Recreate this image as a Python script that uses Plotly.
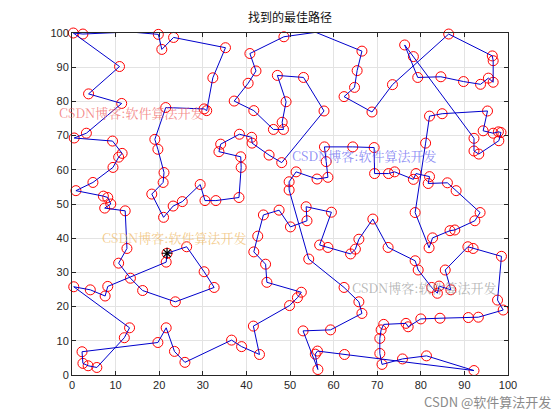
import plotly.graph_objects as go

# Tour order (city coordinates), starting at the starred city
route_x = [21.8, 26.3, 30.3, 32.6, 23.7, 16.2, 13.4, 10.7, 12.6, 12.2,
           7.5, 8.9, 8.2, 7.2, 0.9, 4.8, 9.4, 10.7, 11.5, 9.3,
           0.5, 3.3, 11.4, 3.8, 10.9, 0.3, 2.5, 13.4, 19.8, 20.6,
           23.3, 35.2, 32.3, 30.9, 30.3, 21.5, 19.0, 19.7, 21.1, 20.9,
           18.3, 21.0, 23.2, 25.3, 29.4, 30.5, 33.0, 38.3, 38.8, 38.7,
           33.7, 34.1, 38.4, 41.2, 41.3, 45.2, 48.1, 57.8, 53.1, 47.1,
           49.1, 48.2, 48.5, 46.2, 41.7, 37.2, 40.4, 42.2, 40.8, 48.6,
           55.9, 66.5, 65.4, 64.8, 62.4, 68.8, 73.5, 86.4, 96.4, 96.6,
           96.6, 95.5, 93.7, 89.8, 84.6, 79.3, 76.3, 78.3, 92.2, 92.2,
           93.3, 97.9, 98.4, 97.8, 96.6, 94.3, 95.3, 84.9, 82.0, 81.1,
           78.7, 81.9, 82.7, 86.7, 87.8, 92.4, 93.6, 88.1, 86.1, 81.7,
           82.0, 78.9, 78.3, 74.0, 72.6, 69.4, 69.3, 64.4, 57.9, 58.3,
           58.7, 56.2, 51.4, 49.8, 49.8, 54.3, 62.4, 65.8, 66.5, 59.3,
           53.0, 56.4, 55.8, 56.3, 62.5, 92.2, 81.3, 75.8, 71.1, 70.6,
           70.6, 70.9, 71.5, 76.6, 77.1, 80.0, 84.4, 90.9, 93.2, 98.9,
           97.6, 98.5, 92.0, 90.8, 85.6, 86.9, 84.2, 83.8, 82.5, 79.4,
           78.7, 72.5, 69.0, 65.8, 65.0, 63.9, 58.7, 56.8, 59.5, 53.7,
           53.9, 50.1, 47.5, 43.9, 42.6, 41.7, 44.4, 44.7, 52.6, 51.7,
           49.9, 41.6, 43.0, 38.9, 36.6, 25.9, 23.5, 21.6, 19.7, 2.3,
           2.5, 3.7, 5.7, 12.0, 13.2, 0.4, 4.2, 7.6, 8.2, 21.6]
route_y = [35.6, 37.5, 30.2, 25.6, 21.4, 24.7, 28.3, 32.7, 37.0, 48.0,
           48.8, 50.0, 51.9, 52.3, 53.9, 56.3, 60.7, 63.7, 64.8, 68.4,
           69.3, 70.7, 79.4, 82.2, 90.2, 100.0, 99.7, 100.3, 99.6, 95.2,
           98.7, 95.7, 86.9, 77.3, 77.8, 78.2, 68.9, 66.0, 59.2, 56.3,
           52.9, 46.1, 49.4, 50.7, 55.7, 51.0, 51.0, 51.9, 60.7, 63.8,
           65.3, 67.5, 70.4, 69.5, 67.8, 64.3, 62.1, 77.2, 87.0, 87.6,
           79.9, 73.9, 71.8, 71.8, 77.3, 80.1, 85.3, 88.9, 94.0, 98.9,
           100.2, 94.7, 89.0, 84.1, 81.4, 76.9, 84.9, 99.7, 93.3, 91.9,
           85.6, 86.8, 85.0, 85.8, 87.2, 87.0, 96.5, 93.1, 69.2, 65.5,
           64.6, 68.5, 70.9, 71.1, 70.7, 71.4, 77.2, 76.4, 75.7, 67.8,
           47.5, 37.2, 40.1, 42.2, 42.4, 45.1, 47.5, 53.9, 56.2, 56.0,
           58.0, 58.9, 57.2, 59.4, 58.9, 58.9, 66.5, 66.7, 66.7, 62.4,
           57.8, 57.3, 59.4, 56.5, 54.1, 33.9, 25.6, 21.4, 18.0, 13.2,
           12.9, 1.6, 6.1, 7.0, 6.0, 1.3, 5.6, 4.7, 3.1, 6.3,
           10.7, 13.2, 14.8, 15.1, 14.1, 16.4, 16.6, 16.8, 16.9, 19.0,
           21.9, 34.7, 37.0, 37.5, 30.7, 24.9, 26.0, 23.9, 25.6, 30.7,
           33.4, 37.3, 45.6, 39.7, 36.8, 35.4, 37.3, 38.0, 47.6, 49.2,
           45.1, 43.3, 48.2, 46.8, 40.6, 36.0, 32.4, 27.1, 24.2, 22.6,
           20.3, 14.3, 6.0, 8.3, 10.2, 3.7, 6.9, 13.8, 9.5, 6.8,
           3.4, 2.7, 2.2, 10.9, 13.8, 25.8, 24.9, 23.1, 25.9, 33.0]

tick_vals = [0, 10, 20, 30, 40, 50, 60, 70, 80, 90, 100]
title_text = "找到的最佳路径"
wm_text = "CSDN博客:软件算法开发"
footer_text = "CSDN @软件算法开发"

line_x = route_x + [route_x[0]]
line_y = route_y + [route_y[0]]

# page body has an 8px margin; figure is sized/offset to compensate
OFF = 8
W, H = 560 - OFF, 420 - OFF
PL, PR, PT, PB = 72, 508, 33, 375  # plot area in page pixels

fig = go.Figure()
fig.add_trace(go.Scatter(x=route_x, y=route_y, mode="markers",
                         marker=dict(symbol="circle-open", size=10, color="red",
                                     line=dict(width=1, color="red")),
                         cliponaxis=False, showlegend=False))
fig.add_trace(go.Scatter(x=line_x, y=line_y, mode="lines",
                         line=dict(color="#0000cc", width=1),
                         cliponaxis=False, showlegend=False))
fig.add_trace(go.Scatter(x=[route_x[0]], y=[route_y[0]], mode="markers",
                         marker=dict(symbol="asterisk-open", size=9, color="black",
                                     line=dict(width=1.2, color="black")),
                         cliponaxis=False, showlegend=False))

axis_common = dict(range=[0, 100], tickvals=tick_vals, showgrid=True,
                   gridcolor="#e3e3e3", gridwidth=1, zeroline=False,
                   showline=True, linecolor="#262626", linewidth=1, mirror="ticks",
                   ticks="inside", ticklen=4, tickcolor="#262626",
                   tickfont=dict(family="Liberation Sans, Arial", size=11, color="#262626"))

fig.update_layout(
    width=W, height=H,
    margin=dict(l=PL - OFF, r=W - (PR - OFF), t=PT - OFF, b=H - (PB - OFF)),
    paper_bgcolor="white", plot_bgcolor="white",
    xaxis=dict(**axis_common),
    yaxis=dict(**axis_common),
    title=dict(text=title_text, x=(290 - OFF) / W, xanchor="center",
               y=1 - (18 - OFF) / H, yanchor="middle",
               font=dict(family="Noto Sans CJK SC", size=12, color="#111111")),
)

wms = [
    (57, 112, "rgba(240,100,100,0.75)"),
    (290, 155, "rgba(100,100,240,0.75)"),
    (100, 238, "rgba(240,185,100,0.75)"),
    (350, 287, "rgba(155,155,155,0.75)"),
]
for px, py, col in wms:
    fig.add_annotation(text=wm_text, xref="paper", yref="paper",
                       x=(px - PL) / (PR - PL), y=(PB - py) / (PB - PT),
                       xanchor="left", yanchor="middle", showarrow=False,
                       font=dict(family="Noto Serif CJK SC, Noto Sans CJK SC", size=13, color=col))

fig.add_annotation(text=footer_text, xref="paper", yref="paper",
                   x=(553 - PL) / (PR - PL), y=(PB - 401) / (PB - PT),
                   xanchor="right", yanchor="middle", showarrow=False,
                   font=dict(family="Noto Sans CJK SC", size=13, color="#8a8a8a"))

fig.write_html("out.html")
